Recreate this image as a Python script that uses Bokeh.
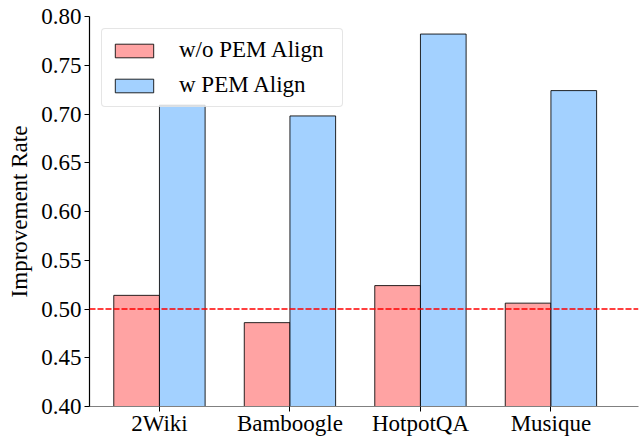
from bokeh.plotting import figure
from bokeh.models import (ColumnDataSource, Range1d, FixedTicker, Span, Legend,
                          LegendItem)
from bokeh.embed import file_html
from bokeh.resources import INLINE

categories = ["2Wiki", "Bamboogle", "HotpotQA", "Musique"]
wo_pem = [0.514, 0.486, 0.524, 0.506]
w_pem = [0.709, 0.698, 0.782, 0.724]
y_ticks = [0.40, 0.45, 0.50, 0.55, 0.60, 0.65, 0.70, 0.75, 0.80]
baseline = 0.5

FONT = "Liberation Serif"
bar_w = 0.35
idx = list(range(len(categories)))

src = ColumnDataSource(dict(
    x_wo=[i - bar_w / 2 for i in idx],
    x_w=[i + bar_w / 2 for i in idx],
    wo=wo_pem,
    w=w_pem,
))

p = figure(width=641, height=438, output_backend="svg", toolbar_location=None,
           x_range=Range1d(-0.536, 3.671), y_range=Range1d(0.40, 0.80),
           min_border_left=89, min_border_right=3, min_border_top=16,
           min_border_bottom=30)
p.outline_line_color = None
p.xgrid.visible = False
p.ygrid.visible = False

r_wo = p.vbar(x="x_wo", top="wo", bottom=0, width=bar_w, source=src,
              fill_color="#FF9999", fill_alpha=0.9,
              line_color="black", line_alpha=0.85, line_width=1)
r_w = p.vbar(x="x_w", top="w", bottom=0, width=bar_w, source=src,
             fill_color="#99CCFF", fill_alpha=0.9,
             line_color="black", line_alpha=0.85, line_width=1)

p.add_layout(Span(location=baseline, dimension="width", line_color="red",
                  line_dash="6 2", line_width=1.5))

# axes
p.xaxis.ticker = FixedTicker(ticks=idx)
p.xaxis.major_label_overrides = {i: c for i, c in zip(idx, categories)}
p.yaxis.ticker = FixedTicker(ticks=y_ticks)
p.yaxis.major_label_overrides = {t: f"{t:.2f}" for t in y_ticks}
p.yaxis.axis_label = "Improvement Rate"

for ax in (p.xaxis, p.yaxis):
    ax.major_label_text_font = FONT
    ax.major_label_text_font_size = "23px"
    ax.major_label_text_color = "black"
    ax.minor_tick_line_color = None
    ax.major_tick_in = 0
    ax.major_tick_out = 5
    ax.major_tick_line_color = "black"
    ax.major_tick_line_width = 1

p.xaxis.axis_line_color = "#808080"
p.xaxis.axis_line_width = 1.2
p.xaxis.major_label_standoff = -1
p.yaxis.axis_line_color = "black"
p.yaxis.axis_line_width = 1.2
p.yaxis.major_label_standoff = 3
p.yaxis.axis_label_text_font = FONT
p.yaxis.axis_label_text_font_size = "23px"
p.yaxis.axis_label_text_font_style = "normal"
p.yaxis.axis_label_text_color = "black"
p.yaxis.axis_label_standoff = 6

legend = Legend(items=[LegendItem(label="w/o PEM Align", renderers=[r_wo]),
                       LegendItem(label="w PEM Align", renderers=[r_w])],
                location="top_left", margin=12, padding=8, spacing=9,
                glyph_width=48, glyph_height=17, label_standoff=21,
                label_width=155,
                label_text_font=FONT, label_text_font_size="23px",
                label_text_color="black",
                background_fill_color="white", background_fill_alpha=0.8,
                border_line_color="#cccccc", border_line_width=1)
if "border_radius" in Legend.properties():
    legend.border_radius = 4
p.add_layout(legend, "center")

open("out.html", "w").write(file_html(p, INLINE))
